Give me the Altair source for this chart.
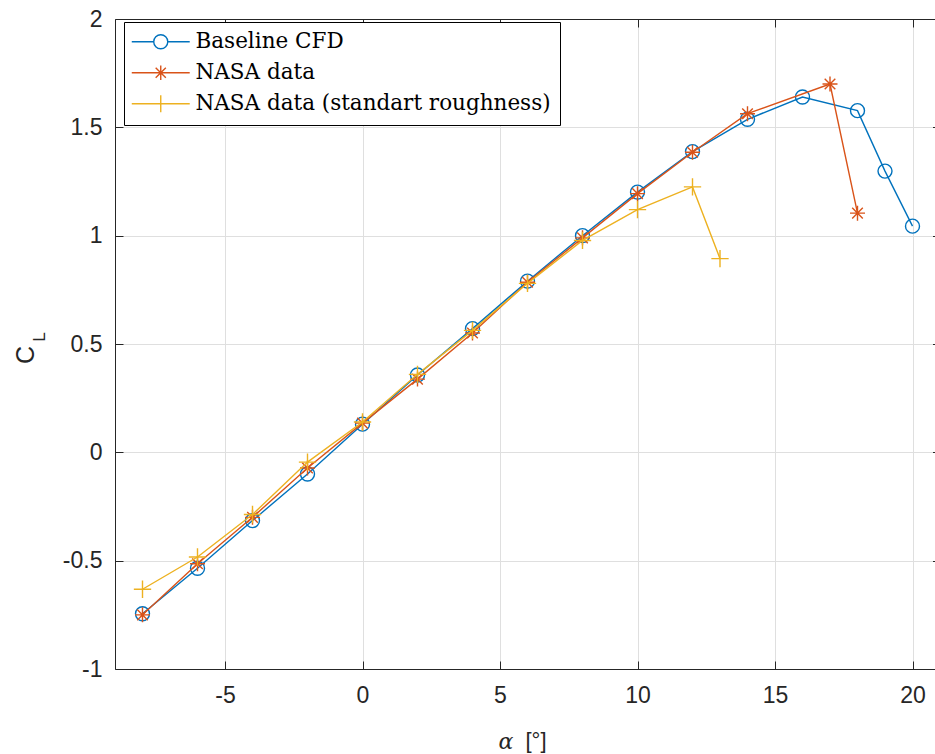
import altair as alt
import pandas as pd

# ---------------- data ----------------
series_names = ["Baseline CFD", "NASA data", "NASA data (standart roughness)"]

alpha_cfd = [-8, -6, -4, -2, 0, 2, 4, 6, 8, 10, 12, 14, 16, 18, 19, 20]
cl_cfd = [-0.745, -0.535, -0.315, -0.100, 0.130, 0.357, 0.571, 0.790, 1.000,
          1.201, 1.388, 1.537, 1.640, 1.577, 1.298, 1.044]

alpha_nasa = [-8, -6, -4, -2, 0, 2, 4, 6, 8, 10, 12, 14, 17, 18]
cl_nasa = [-0.750, -0.514, -0.300, -0.072, 0.135, 0.338, 0.551, 0.785, 0.990,
           1.194, 1.385, 1.563, 1.700, 1.104]

alpha_rough = [-8, -6, -4, -2, 0, 2, 4, 6, 8, 10, 12, 13]
cl_rough = [-0.632, -0.483, -0.287, -0.045, 0.140, 0.360, 0.563, 0.780, 0.978,
            1.120, 1.225, 0.894]

x_ticks = [-5, 0, 5, 10, 15, 20]
y_ticks = [-1, -0.5, 0, 0.5, 1, 1.5, 2]

colors = ["#0072BD", "#D95319", "#EDB120"]

# ---------------- table ----------------
rows = []
for name, xs, ys in zip(series_names, [alpha_cfd, alpha_nasa, alpha_rough],
                        [cl_cfd, cl_nasa, cl_rough]):
    for a, c in zip(xs, ys):
        rows.append({"series": name, "alpha": a, "cl": c})
df = pd.DataFrame(rows)

# ---------------- styling ----------------
W, H = 820, 650
xscale = alt.Scale(domain=[-9, -9 + W / 27.5], nice=False, zero=False)
yscale = alt.Scale(domain=[-1, 2], nice=False, zero=False)

AX = "#262626"
GRID = "#dfdfdf"
TICK_FONT = "Liberation Sans"
TICK_SIZE = 23

ASTERISK = "M-1,0L1,0M0,-1L0,1M-0.7071,-0.7071L0.7071,0.7071M-0.7071,0.7071L0.7071,-0.7071"
PLUS = "M-1,0L1,0M0,-1L0,1"
marker_shapes = ["circle", ASTERISK, PLUS]
marker_sizes = [196, 225, 300]

legend_paths = [
    "M-4,0L-0.97,0M0.97,0L4,0M-0.97,0A0.97,0.97,0,1,1,0.97,0A0.97,0.97,0,1,1,-0.97,0Z",
    "M-4,0L4,0M0,-1L0,1M-0.7,-0.7L0.7,0.7M-0.7,0.7L0.7,-0.7",
    "M-4,0L4,0M0,-1.17L0,1.17",
]


def base(axis_x=None, axis_y=None):
    return alt.Chart(df).encode(
        x=alt.X("alpha:Q", scale=xscale, axis=axis_x),
        y=alt.Y("cl:Q", scale=yscale, axis=axis_y),
    )


lab_expr = "datum.value + ''"

# grid + left/bottom frame lines
ax_x_grid = alt.Axis(orient="bottom", values=x_ticks, offset=0, domain=True,
                     domainColor=AX, domainWidth=1, ticks=False, labels=False,
                     grid=True, gridColor=GRID, gridWidth=1, title=None)
ax_y_grid = alt.Axis(orient="left", values=y_ticks, offset=0, domain=True,
                     domainColor=AX, domainWidth=1, ticks=False, labels=False,
                     grid=True, gridColor=GRID, gridWidth=1, title=None)
# inward ticks + labels
ax_x_main = alt.Axis(orient="bottom", values=x_ticks, offset=-8, tickSize=8,
                     tickColor=AX, tickWidth=1, domain=False, grid=False,
                     labelExpr=lab_expr, labelFont=TICK_FONT,
                     labelFontSize=TICK_SIZE, labelColor=AX, labelPadding=15,
                     title=None)
ax_y_main = alt.Axis(orient="left", values=y_ticks, offset=-8, tickSize=8,
                     tickColor=AX, tickWidth=1, domain=False, grid=False,
                     labelExpr=lab_expr, labelFont=TICK_FONT,
                     labelFontSize=TICK_SIZE, labelColor=AX, labelPadding=13,
                     title=None)
# top frame line + right ticks (right frame is outside the window)
ax_x_top = alt.Axis(orient="top", values=x_ticks, offset=0, domain=True,
                    domainColor=AX, domainWidth=1, ticks=False, labels=False,
                    grid=False, title=None)
ax_y_right = alt.Axis(orient="right", values=y_ticks, offset=-2.5, tickSize=2.5,
                      tickColor=AX, tickWidth=1, domain=False, labels=False,
                      grid=False, title=None)
ax_x_top_ticks = alt.Axis(orient="top", values=x_ticks, offset=-8, tickSize=8,
                          tickColor=AX, tickWidth=1, domain=False, labels=False,
                          grid=False, title=None)

axis_layers = [
    base(ax_x_grid, ax_y_grid).mark_point(opacity=0),
    base(ax_x_main, ax_y_main).mark_point(opacity=0),
    base(ax_x_top, ax_y_right).mark_point(opacity=0),
    base(ax_x_top_ticks, None).mark_point(opacity=0),
]

series_layers = []
for i, name in enumerate(series_names):
    sub = base().transform_filter(alt.datum.series == name)
    series_layers.append(
        sub.mark_line(color=colors[i], strokeWidth=1.4)
    )
    series_layers.append(
        sub.mark_point(shape=marker_shapes[i], size=marker_sizes[i], filled=False,
                       color=colors[i], strokeWidth=1.4, opacity=1)
    )

legend_obj = alt.Legend(
    title=None, orient="none", legendX=9, legendY=3, direction="vertical",
    labelFont="DejaVu Serif", labelFontSize=21.5, labelColor="black", labelLimit=0,
    symbolSize=210, symbolStrokeWidth=1.4, symbolFillColor="transparent",
    symbolOffset=17, labelOffset=24, rowPadding=8, padding=9,
    strokeColor="black", fillColor="white",
)
legend_layer = base().transform_filter("false").mark_point(
    filled=False, opacity=1, strokeWidth=1.4
).encode(
    color=alt.Color("series:N", scale=alt.Scale(domain=series_names, range=colors),
                    legend=legend_obj),
    shape=alt.Shape("series:N", scale=alt.Scale(domain=series_names, range=legend_paths),
                    legend=legend_obj),
)

# axis titles
alpha_title = alt.Chart(pd.DataFrame({"t": ["α"]})).mark_text(
    font="DejaVu Serif", fontStyle="italic", fontSize=22, color=AX,
    align="center", baseline="middle"
).encode(x=alt.value(391), y=alt.value(723), text="t:N")
deg_title = alt.Chart(pd.DataFrame({"t": ["[°]"]})).mark_text(
    font=TICK_FONT, fontSize=22, color=AX, align="center", baseline="middle"
).encode(x=alt.value(421), y=alt.value(722), text="t:N")
c_title = alt.Chart(pd.DataFrame({"t": ["C"]})).mark_text(
    font=TICK_FONT, fontSize=25, color=AX, align="center", baseline="middle", angle=270
).encode(x=alt.value(-89), y=alt.value(336), text="t:N")
l_title = alt.Chart(pd.DataFrame({"t": ["L"]})).mark_text(
    font=TICK_FONT, fontSize=17, color=AX, align="center", baseline="middle", angle=270
).encode(x=alt.value(-75), y=alt.value(318), text="t:N")

chart = alt.layer(
    *axis_layers, *series_layers, legend_layer,
    alpha_title, deg_title, c_title, l_title
).resolve_axis(
    x="independent", y="independent"
).properties(
    width=W, height=H,
    padding={"left": 115, "top": 19, "right": 0, "bottom": 85},
    autosize=alt.AutoSizeParams(type="none"),
    background="white",
).configure_view(stroke=None)

chart.save("out.html", embed_options={"renderer": "svg", "actions": False})
